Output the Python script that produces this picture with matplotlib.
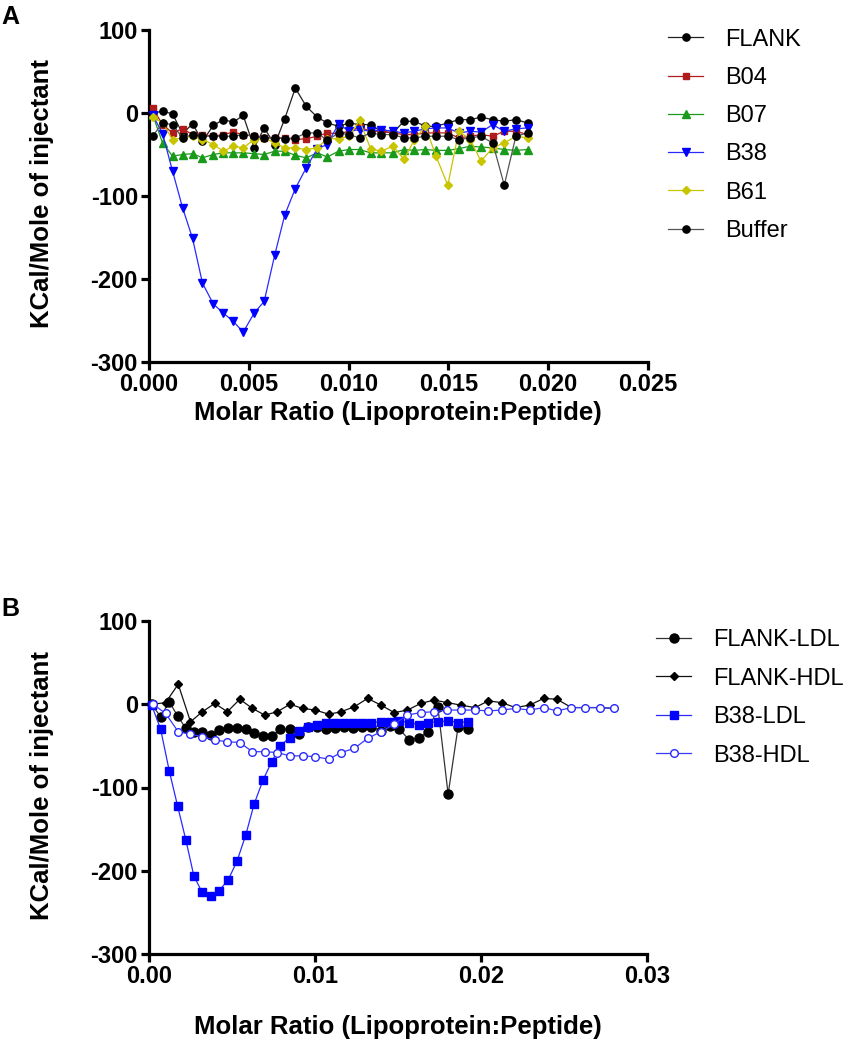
import matplotlib
matplotlib.use('Agg')
import matplotlib.pyplot as plt

plt.rcParams['font.family'] = ['Liberation Sans', 'DejaVu Sans']

# ---------------- Panel A data ----------------
xa = [0.00018, 0.00068, 0.00118, 0.00168, 0.00218, 0.00268, 0.00322, 0.00372, 0.00422,
      0.00472, 0.00527, 0.00577, 0.00630, 0.00680, 0.00733, 0.00788, 0.00843, 0.00893,
      0.00950, 0.01002, 0.01055, 0.01110, 0.01163, 0.01222, 0.01277, 0.01330, 0.01385,
      0.01438, 0.01497, 0.01552, 0.01610, 0.01663, 0.01722, 0.01780, 0.01838, 0.01897]
flank_a = [0, 2, -1, -25, -13, -34, -15, -8, -11, -3, -42, -18, -38, -7, 30, 8, -5, -12,
           -16, -12, -14, -14, -22, -24, -10, -10, -16, -16, -12, -8, -8, -5, -8, -10, -8, -12]
b04_a = [6, -14, -24, -19, -26, -26, -28, -26, -23, -26, -28, -30, -30, -30, -32, -31, -28, -24,
         -25, -22, -17, -22, -22, -24, -26, -26, -24, -24, -24, -30, -28, -26, -28, -22, -22, -26]
b07_a = [-2, -36, -52, -50, -49, -54, -50, -48, -48, -48, -49, -50, -46, -46, -51, -54, -48, -53,
         -46, -44, -44, -48, -48, -48, -44, -45, -44, -45, -45, -43, -40, -41, -42, -44, -45, -44]
b38_a = [-2, -25, -70, -114, -151, -205, -230, -241, -251, -264, -241, -227, -171, -123, -91, -66,
         -43, -38, -13, -22, -20, -22, -20, -22, -24, -22, -19, -18, -18, -24, -22, -23, -14, -22,
         -19, -18]
b61_a = [-5, -12, -32, -30, -28, -32, -38, -46, -40, -42, -32, -30, -36, -42, -42, -44, -42, -31,
         -31, -28, -9, -43, -46, -40, -56, -32, -16, -52, -87, -22, -32, -58, -42, -36, -28, -30]
buffer_a = [-28, -12, -14, -30, -26, -28, -28, -28, -28, -26, -28, -30, -30, -31, -30, -24, -24, -33,
            -24, -26, -30, -24, -26, -26, -30, -30, -28, -28, -28, -32, -30, -28, -36, -87, -28, -24]
labels_a = ['FLANK', 'B04', 'B07', 'B38', 'B61', 'Buffer']
xticks_a = [0.000, 0.005, 0.010, 0.015, 0.020, 0.025]
xticklabels_a = ['0.000', '0.005', '0.010', '0.015', '0.020', '0.025']

# ---------------- Panel B data ----------------
xb_ldl = [0.00016, 0.00070, 0.00122, 0.00172, 0.00222, 0.00270, 0.00320, 0.00372, 0.00422,
          0.00477, 0.00531, 0.00583, 0.00633, 0.00687, 0.00739, 0.00791, 0.00847, 0.00901,
          0.00957, 0.01010, 0.01064, 0.01118, 0.01172, 0.01228, 0.01284, 0.01340, 0.01398,
          0.01453, 0.01509, 0.01568, 0.01628, 0.01682, 0.01740, 0.01802, 0.01862, 0.01920]
xb_hdl = [0.00024, 0.00100, 0.00176, 0.00250, 0.00322, 0.00396, 0.00472, 0.00547, 0.00623,
          0.00697, 0.00773, 0.00849, 0.00925, 0.01003, 0.01083, 0.01157, 0.01237, 0.01317,
          0.01397, 0.01477, 0.01557, 0.01637, 0.01717, 0.01797, 0.01877, 0.01964, 0.02044,
          0.02124, 0.02208, 0.02293, 0.02378, 0.02458, 0.02545, 0.02629, 0.02719, 0.02800]
flank_ldl = [0, -15, 3, -14, -29, -33, -33, -37, -31, -29, -29, -30, -34, -38, -38, -30, -30, -36,
             -27, -27, -30, -29, -27, -28, -27, -27, -32, -26, -30, -43, -40, -33, -3, -108, -27, -30]
flank_hdl = [0, 2, 24, -21, -9, 1, -9, 6, -5, -13, -9, 0, -5, -7, -12, -9, -3, 7,
             -1, -10, -7, 1, 5, 2, -1, -4, 4, 2, -4, -1, 7, 6, -4, -4, -4, -5]
b38_ldl = [-1, -30, -80, -122, -163, -206, -226, -230, -224, -211, -188, -157, -120, -91, -69, -50,
           -40, -32, -27, -25, -23, -23, -23, -23, -22, -22, -21, -21, -20, -22, -25, -22, -21, -20,
           -22, -21]
b38_hdl = [0, -11, -33, -36, -39, -43, -45, -46, -57, -57, -58, -62, -62, -63, -66, -58, -53, -41,
           -33, -24, -13, -10, -9, -7, -7, -7, -8, -7, -5, -7, -4, -8, -4, -4, -4, -5]
labels_b = ['FLANK-LDL', 'FLANK-HDL', 'B38-LDL', 'B38-HDL']
xticks_b = [0.00, 0.01, 0.02, 0.03]
xticklabels_b = ['0.00', '0.01', '0.02', '0.03']

yticks = [100, 0, -100, -200, -300]

W, H = 862, 1050
fig = plt.figure(figsize=(W / 100, H / 100), dpi=100)
axA = fig.add_axes([149 / W, 1 - 362 / H, 499 / W, 332 / H])
axB = fig.add_axes([149 / W, 1 - 954 / H, 498 / W, 333 / H])

TICK_FS = 17
LAB_FS = 18.5


def style(ax, xmax, xticks, xticklabels):
    ax.set_xlim(0, xmax)
    ax.set_ylim(-300, 100)
    ax.set_xticks(xticks)
    ax.set_xticklabels(xticklabels)
    ax.set_yticks(yticks)
    ax.set_yticklabels([str(t) for t in yticks])
    for s in ['top', 'right']:
        ax.spines[s].set_visible(False)
    for s in ['left', 'bottom']:
        ax.spines[s].set_linewidth(2.3)
    ax.tick_params(width=2.3, length=6, direction='out', labelsize=TICK_FS, pad=2)
    for lab in ax.get_xticklabels() + ax.get_yticklabels():
        lab.set_fontweight('bold')


# Panel A
lw = 0.9
axA.plot(xa, flank_a, color='#222222', lw=lw, marker='o', ms=5.2, mfc='black', mec='black',
         label=labels_a[0], clip_on=False, zorder=3)
axA.plot(xa, b04_a, color='#b01c1c', lw=lw, marker='s', ms=5, mfc='#b01c1c', mec='#b01c1c',
         label=labels_a[1], clip_on=False, zorder=3)
axA.plot(xa, b07_a, color='#1a9a1a', lw=lw, marker='^', ms=5.5, mfc='#1a9a1a', mec='#1a9a1a',
         label=labels_a[2], clip_on=False, zorder=3)
axA.plot(xa, b38_a, color='#2a2aff', lw=lw, marker='v', ms=5.5, mfc='#0000ff', mec='#0000ff',
         label=labels_a[3], clip_on=False, zorder=3)
axA.plot(xa, b61_a, color='#c8c400', lw=lw, marker='D', ms=4, mfc='#c8c400', mec='#c8c400',
         label=labels_a[4], clip_on=False, zorder=3)
axA.plot(xa, buffer_a, color='#555555', lw=lw, marker='o', ms=5.2, mfc='black', mec='black',
         label=labels_a[5], clip_on=False, zorder=3)
style(axA, 0.025, xticks_a, xticklabels_a)

legA = axA.legend(loc='upper left', bbox_to_anchor=(668 / W, 1 - 28.5 / H),
                  bbox_transform=fig.transFigure, frameon=False, fontsize=17,
                  handlelength=1.5, handletextpad=0.9, labelspacing=0.69,
                  borderpad=0, borderaxespad=0)

# Panel B
axB.plot(xb_ldl, flank_ldl, color='#333333', lw=lw, marker='o', ms=6.5, mfc='black', mec='black',
         label=labels_b[0], clip_on=False, zorder=3)
axB.plot(xb_hdl, flank_hdl, color='#111111', lw=lw, marker='D', ms=4, mfc='black', mec='black',
         label=labels_b[1], clip_on=False, zorder=3)
axB.plot(xb_ldl, b38_ldl, color='#2a2aff', lw=lw, marker='s', ms=5.5, mfc='#0000ff', mec='#0000ff',
         label=labels_b[2], clip_on=False, zorder=3)
axB.plot(xb_hdl, b38_hdl, color='#3a3aff', lw=lw, marker='o', ms=5.5, mfc='white', mec='#2a2aff',
         mew=1.0, label=labels_b[3], clip_on=False, zorder=3)
style(axB, 0.03, xticks_b, xticklabels_b)

legB = axB.legend(loc='upper left', bbox_to_anchor=(656 / W, 1 - 629 / H),
                  bbox_transform=fig.transFigure, frameon=False, fontsize=17,
                  handlelength=1.5, handletextpad=0.9, labelspacing=0.70,
                  borderpad=0, borderaxespad=0)

# Axis titles
for ymid, xlab_y in [(194, 413), (786, 1027)]:
    fig.text(42 / W, 1 - ymid / H, 'KCal/Mole of injectant', rotation=90, ha='center',
             va='center', fontsize=LAB_FS, fontweight='bold')
    fig.text(398 / W, 1 - xlab_y / H, 'Molar Ratio (Lipoprotein:Peptide)', ha='center',
             va='center', fontsize=LAB_FS, fontweight='bold')

fig.text(1 / W, 1 - 5 / H, 'A', ha='left', va='top', fontsize=18, fontweight='bold')
fig.text(1 / W, 1 - 597 / H, 'B', ha='left', va='top', fontsize=18, fontweight='bold')

fig.savefig('out.png', dpi=100)
